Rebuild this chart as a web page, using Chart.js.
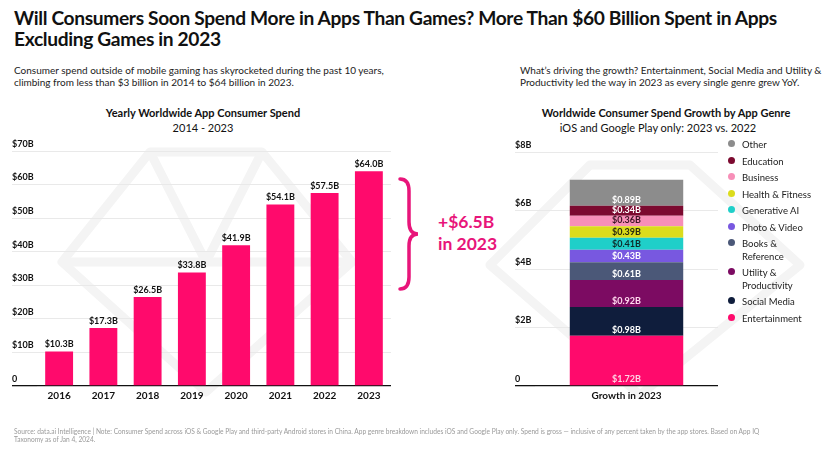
<!DOCTYPE html>
<html><head><meta charset="utf-8">
<script src="https://cdn.jsdelivr.net/npm/chart.js@4.4.1/dist/chart.umd.min.js"></script>
<style>
body{margin:0;width:836px;height:454px;background:#fff;overflow:hidden;font-family:Lato,sans-serif;position:relative;color:#111}
.abs{position:absolute;white-space:nowrap}
canvas{position:absolute;left:0;top:0}
#title{left:14px;top:7px;font-size:19.2px;font-weight:700;line-height:21px;letter-spacing:-0.35px;color:#111}
.sub{top:64px;font-size:10px;line-height:12px;color:#222}
.ctitle{font-size:11px;font-weight:700;text-align:center;transform:translateX(-50%);line-height:14px}
.csub{font-size:11px;text-align:center;transform:translateX(-50%);line-height:14px}
#legend{left:728px;top:139px;font-size:9.5px;color:#222}
.li{position:relative;padding-left:14px;line-height:12.5px;margin-bottom:4px}
.li i{position:absolute;left:0;top:1px;width:7px;height:7px;border-radius:50%}
#foot{left:14px;top:427px;font-size:6.6px;line-height:8px;color:#9a9a9a;white-space:normal;width:772px}
#ann{left:438px;top:211px;font-size:17.5px;font-weight:700;line-height:22px;color:#e8157a}
</style></head><body>
<svg class="abs" style="left:0;top:0" width="836" height="454">
  <g fill="none" stroke="#f4f4f4" stroke-width="9" stroke-linejoin="round">
    <polygon points="150,152 262,152 352,262 206,392 62,262"/>
    <polyline points="62,262 352,262"/>
    <polyline points="150,152 206,262 262,152"/>
    <polygon points="590,165 690,165 800,265 640,395 490,265"/>
  </g>
  <path d="M400 179 Q409 179 409 191 L409 222 Q409 234 418 234 Q409 234 409 246 L409 277 Q409 289 400 289" fill="none" stroke="#e8157a" stroke-width="3.5" stroke-linecap="round"/>
</svg>
<div id="title" class="abs">Will Consumers Soon Spend More in Apps Than Games? More Than $60 Billion Spent in Apps<br>Excluding Games in 2023</div>
<div class="abs sub" style="left:14px">Consumer spend outside of mobile gaming has skyrocketed during the past 10 years,<br>climbing from less than $3 billion in 2014 to $64 billion in 2023.</div>
<div class="abs sub" style="left:520px">What’s driving the growth? Entertainment, Social Media and Utility &amp;<br>Productivity led the way in 2023 as every single genre grew YoY.</div>
<div class="abs ctitle" style="left:203px;top:106px">Yearly Worldwide App Consumer Spend</div>
<div class="abs csub" style="left:203px;top:121px">2014 - 2023</div>
<div class="abs ctitle" style="left:666px;top:106px">Worldwide Consumer Spend Growth by App Genre</div>
<div class="abs csub" style="left:658px;top:121px">iOS and Google Play only: 2023 vs. 2022</div>
<div id="ann" class="abs">+$6.5B<br>in 2023</div>
<canvas id="c1" width="836" height="454"></canvas>
<canvas id="c2" width="836" height="454"></canvas>
<div id="legend" class="abs"></div>
<div id="foot" class="abs">Source: data.ai Intelligence | Note: Consumer Spend across iOS &amp; Google Play and third-party Android stores in China. App genre breakdown includes iOS and Google Play only. Spend is gross — inclusive of any percent taken by the app stores. Based on App IQ Taxonomy as of Jan 4, 2024.</div>
<script>
// ---- data ----
const years = ['2016','2017','2018','2019','2020','2021','2022','2023'];
const yearlySpend = [10.3, 17.3, 26.5, 33.8, 41.9, 54.1, 57.5, 64.0];
const yearlyLabels = ['$10.3B','$17.3B','$26.5B','$33.8B','$41.9B','$54.1B','$57.5B','$64.0B'];
const growthCategory = ['Growth in 2023'];
const genres = ['Entertainment','Social Media','Utility & Productivity','Books & Reference','Photo & Video','Generative AI','Health & Fitness','Business','Education','Other'];
const genreGrowth = [1.72, 0.98, 0.92, 0.61, 0.43, 0.41, 0.39, 0.36, 0.34, 0.89];
const genreLabels = ['$1.72B','$0.98B','$0.92B','$0.61B','$0.43B','$0.41B','$0.39B','$0.36B','$0.34B','$0.89B'];
const legendNames = ['Entertainment','Social Media','Utility &\nProductivity','Books &\nReference','Photo & Video','Generative AI','Health & Fitness','Business','Education','Other'];

// ---- styles ----
const PINK = '#ff0a6c';
const genreColors = ['#ff0a6c','#0f1d3c','#7c0b62','#4b5878','#7858e0','#1fcfc9','#dcdc1c','#f78fb8','#7c0a30','#8c8c8c'];
const genreTextColors = ['#ffd3e4','#ffffff','#ffd8ee','#ffffff','#ffffff','#0f2a2a','#2a2a10','#3a1424','#ffffff','#ffffff'];
const FONT = 'Lato, sans-serif';

const valueLabels = {
  id: 'valueLabels',
  afterDatasetsDraw(chart, args, opts) {
    const ctx = chart.ctx;
    ctx.save();
    ctx.font = 'bold 9px ' + FONT;
    ctx.textAlign = 'center';
    ctx.textBaseline = 'middle';
    chart.data.datasets.forEach((ds, i) => {
      const meta = chart.getDatasetMeta(i);
      meta.data.forEach((el, j) => {
        if (opts.mode === 'top') {
          ctx.fillStyle = '#111';
          ctx.fillText(ds.labelsText[j], el.x, el.y - 7);
        } else {
          ctx.fillStyle = ds.textColor;
          ctx.fillText(ds.labelsText[j], el.x, el.base - 6);
        }
      });
    });
    ctx.restore();
  }
};

const gridColor = c => c.tick && c.tick.value === 0 ? '#111' : '#e9e9e9';
const gridWidth = c => c.tick && c.tick.value === 0 ? 1.3 : 1;

new Chart(document.getElementById('c1'), {
  type: 'bar',
  data: {
    labels: years,
    datasets: [{ data: yearlySpend, labelsText: yearlyLabels, backgroundColor: PINK, barPercentage: 0.63, categoryPercentage: 1 }]
  },
  options: {
    responsive: false, animation: false,
    layout: { padding: { left: 12, right: 445, top: 151, bottom: 38 } },
    plugins: { legend: { display: false }, tooltip: { enabled: false }, valueLabels: { mode: 'top' } },
    scales: {
      x: {
        grid: { display: false, drawTicks: false }, border: { display: false },
        ticks: { padding: 4, color: '#111', font: { family: FONT, size: 10, weight: 'bold' } },
        afterFit: s => { s.height = 30; }
      },
      y: {
        min: 0, max: 70,
        grid: { color: gridColor, lineWidth: gridWidth, tickLength: 25, drawTicks: true, tickColor: gridColor },
        border: { display: false },
        ticks: { stepSize: 10, crossAlign: 'far', labelOffset: -7, padding: 0, color: '#111',
          font: { family: FONT, size: 9, weight: 'bold' },
          callback: v => v === 0 ? '0' : '$' + v + 'B' },
        afterFit: s => { s.width = 25; }
      }
    }
  },
  plugins: [valueLabels]
});

new Chart(document.getElementById('c2'), {
  type: 'bar',
  data: {
    labels: growthCategory,
    datasets: genres.map((g, i) => ({
      label: g, data: [genreGrowth[i]], labelsText: [genreLabels[i]],
      backgroundColor: genreColors[i], textColor: genreTextColors[i],
      barPercentage: 0.62, categoryPercentage: 1
    }))
  },
  options: {
    responsive: false, animation: false,
    layout: { padding: { left: 515, right: 118, top: 152, bottom: 38 } },
    plugins: { legend: { display: false }, tooltip: { enabled: false }, valueLabels: { mode: 'inside' } },
    scales: {
      x: {
        stacked: true,
        grid: { display: false, drawTicks: false }, border: { display: false },
        ticks: { padding: 4, color: '#111', font: { family: FONT, size: 10, weight: 'bold' } },
        afterFit: s => { s.height = 30; }
      },
      y: {
        stacked: true, min: 0, max: 8,
        grid: { color: gridColor, lineWidth: gridWidth, tickLength: 20, drawTicks: true, tickColor: gridColor },
        border: { display: false },
        ticks: { stepSize: 2, crossAlign: 'far', labelOffset: -7, padding: 0, color: '#111',
          font: { family: FONT, size: 9, weight: 'bold' },
          callback: v => v === 0 ? '0' : '$' + v + 'B' },
        afterFit: s => { s.width = 20; }
      }
    }
  },
  plugins: [valueLabels]
});

// legend (HTML, built from the genre arrays, top entry first)
const lg = document.getElementById('legend');
for (let i = genres.length - 1; i >= 0; i--) {
  const d = document.createElement('div');
  d.className = 'li';
  d.innerHTML = '<i style="background:' + genreColors[i] + '"></i>' + legendNames[i].replace(/&/g, '&amp;').replace('\n', '<br>');
  lg.appendChild(d);
}
</script>
</body></html>
